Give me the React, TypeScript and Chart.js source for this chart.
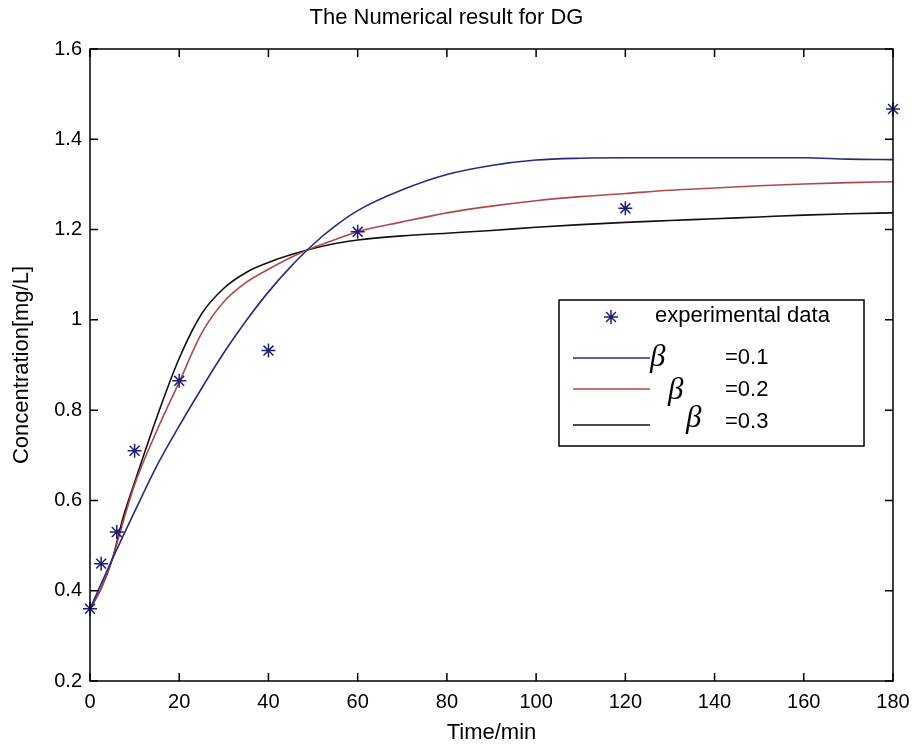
import React, { useEffect, useRef } from "react";
import { Chart, registerables } from "chart.js";

Chart.register(...registerables);

const chartTitle = "The Numerical result for DG";
const xAxisLabel = "Time/min";
const yAxisLabel = "Concentration[mg/L]";

const xTickValues = [0, 20, 40, 60, 80, 100, 120, 140, 160, 180];
const yTickValues = [0.2, 0.4, 0.6, 0.8, 1.0, 1.2, 1.4, 1.6];

const expTimes = [0, 2.5, 6, 10, 20, 40, 60, 120, 180];
const expValues = [0.36, 0.46, 0.53, 0.71, 0.865, 0.932, 1.195, 1.247, 1.467];

const modelTimes = [0, 2.5, 5, 7.5, 10, 15, 20, 25, 30, 35, 40, 45, 50, 55, 60, 70, 80, 90, 100, 110, 120, 130, 140, 150, 160, 170, 180];
const beta01 = [0.36, 0.415, 0.47, 0.523, 0.575, 0.677, 0.765, 0.848, 0.927, 0.998, 1.062, 1.118, 1.167, 1.208, 1.242, 1.288, 1.322, 1.342, 1.354, 1.358, 1.359, 1.359, 1.359, 1.359, 1.359, 1.356, 1.355];
const beta02 = [0.36, 0.405, 0.47, 0.555, 0.635, 0.755, 0.862, 0.97, 1.04, 1.083, 1.112, 1.138, 1.16, 1.178, 1.195, 1.217, 1.237, 1.252, 1.264, 1.273, 1.28, 1.287, 1.292, 1.297, 1.301, 1.304, 1.306];
const beta03 = [0.36, 0.405, 0.47, 0.565, 0.64, 0.785, 0.915, 1.013, 1.07, 1.105, 1.127, 1.144, 1.158, 1.169, 1.177, 1.186, 1.192, 1.198, 1.205, 1.211, 1.216, 1.22, 1.224, 1.228, 1.232, 1.235, 1.237];

const legendLabels = ["experimental data", "=0.1", "=0.2", "=0.3"];

const NAVY = "#1f1f78";
const BLUE_LINE = "#2a2a80";
const RED_LINE = "#b04848";
const BLACK_LINE = "#111111";

function drawStar(ctx: CanvasRenderingContext2D, cx: number, cy: number, r: number) {
  ctx.beginPath();
  for (let i = 0; i < 4; i++) {
    const a = (i * Math.PI) / 4;
    ctx.moveTo(cx - r * Math.cos(a), cy - r * Math.sin(a));
    ctx.lineTo(cx + r * Math.cos(a), cy + r * Math.sin(a));
  }
  ctx.stroke();
}

const framePlugin = {
  id: "matlabFrame",
  afterDraw(chart: any) {
    const { ctx, chartArea } = chart;
    const { left, right, top, bottom } = chartArea;
    const xs = chart.scales.x;
    const ys = chart.scales.y;
    ctx.save();
    ctx.strokeStyle = "#000";
    ctx.lineWidth = 1.5;
    ctx.strokeRect(left, top, right - left, bottom - top);
    const tl = 8;
    ctx.beginPath();
    xTickValues.forEach((v) => {
      const px = xs.getPixelForValue(v);
      ctx.moveTo(px, bottom);
      ctx.lineTo(px, bottom - tl);
      ctx.moveTo(px, top);
      ctx.lineTo(px, top + tl);
    });
    yTickValues.forEach((v) => {
      const py = ys.getPixelForValue(v);
      ctx.moveTo(left, py);
      ctx.lineTo(left + tl, py);
      ctx.moveTo(right, py);
      ctx.lineTo(right - tl, py);
    });
    ctx.stroke();

    // legend
    const bx = 559, by = 300, bw = 305, bh = 146;
    ctx.fillStyle = "#fff";
    ctx.fillRect(bx, by, bw, bh);
    ctx.strokeStyle = "#000";
    ctx.lineWidth = 1.5;
    ctx.strokeRect(bx, by, bw, bh);

    ctx.strokeStyle = NAVY;
    ctx.lineWidth = 1.5;
    drawStar(ctx, 611, 317, 7);

    ctx.fillStyle = "#000";
    ctx.font = '22px "Liberation Sans", Arial, sans-serif';
    ctx.textBaseline = "middle";
    ctx.textAlign = "left";
    ctx.fillText(legendLabels[0], 655, 316);

    const rows = [
      { y: 358, color: BLUE_LINE, bx: 650, by: 358, ty: 358 },
      { y: 389, color: RED_LINE, bx: 668, by: 391, ty: 390 },
      { y: 425, color: BLACK_LINE, bx: 686, by: 419, ty: 422 },
    ];
    rows.forEach((r, i) => {
      ctx.strokeStyle = r.color;
      ctx.lineWidth = 1.5;
      ctx.beginPath();
      ctx.moveTo(573, r.y);
      ctx.lineTo(650, r.y);
      ctx.stroke();
      ctx.fillStyle = "#000";
      ctx.font = 'italic 31px "Liberation Serif", "DejaVu Serif", serif';
      ctx.fillText("β", r.bx, r.by);
      ctx.font = '22px "Liberation Sans", Arial, sans-serif';
      ctx.fillText(legendLabels[i + 1], 725, r.ty);
    });
    ctx.restore();
  },
};

export default function App() {
  const ref = useRef<HTMLCanvasElement | null>(null);
  useEffect(() => {
    document.body.style.margin = "0";
    const canvas = ref.current;
    if (!canvas) return;
    const mk = (xs: number[], ys: number[]) => xs.map((x, i) => ({ x, y: ys[i] }));
    const chart = new Chart(canvas, {
      type: "scatter",
      data: {
        datasets: [
          {
            label: "experimental data",
            data: mk(expTimes, expValues),
            pointStyle: "star",
            pointRadius: 7,
            pointBorderWidth: 1.5,
            borderColor: NAVY,
            backgroundColor: NAVY,
            showLine: false,
            clip: false,
          } as any,
          {
            label: "β=0.1",
            data: mk(modelTimes, beta01),
            showLine: true,
            borderColor: BLUE_LINE,
            borderWidth: 1.6,
            pointRadius: 0,
            cubicInterpolationMode: "monotone",
          },
          {
            label: "β=0.2",
            data: mk(modelTimes, beta02),
            showLine: true,
            borderColor: RED_LINE,
            borderWidth: 1.6,
            pointRadius: 0,
            cubicInterpolationMode: "monotone",
          },
          {
            label: "β=0.3",
            data: mk(modelTimes, beta03),
            showLine: true,
            borderColor: BLACK_LINE,
            borderWidth: 1.6,
            pointRadius: 0,
            cubicInterpolationMode: "monotone",
          },
        ],
      },
      options: {
        animation: false,
        responsive: false,
        devicePixelRatio: 1,
        layout: { padding: { top: 0, right: 23, bottom: 0, left: 0 } },
        plugins: {
          legend: { display: false },
          tooltip: { enabled: false },
          title: {
            display: true,
            text: chartTitle,
            color: "#000",
            font: { family: '"Liberation Sans", Arial, sans-serif', size: 22, weight: "normal" },
            padding: { top: 5, bottom: 17.6 },
          },
        },
        scales: {
          x: {
            type: "linear",
            min: 0,
            max: 180,
            afterBuildTicks: (s: any) => {
              s.ticks = xTickValues.map((v) => ({ value: v }));
            },
            afterFit: (s: any) => {
              s.height = 65;
              s.paddingRight = 0;
              s.paddingLeft = 0;
            },
            grid: { display: false, drawTicks: false },
            border: { display: false },
            ticks: {
              color: "#000",
              padding: 9,
              maxRotation: 0,
              font: { family: '"Liberation Sans", Arial, sans-serif', size: 20 },
              callback: (v: any) => String(v),
            },
            title: {
              display: true,
              text: xAxisLabel,
              color: "#000",
              font: { family: '"Liberation Sans", Arial, sans-serif', size: 22 },
              padding: { top: 0, bottom: 0 },
            },
          },
          y: {
            type: "linear",
            min: 0.2,
            max: 1.6,
            afterBuildTicks: (s: any) => {
              s.ticks = yTickValues.map((v) => ({ value: v }));
            },
            afterFit: (s: any) => {
              s.width = 90;
              s.paddingTop = 0;
              s.paddingBottom = 0;
            },
            grid: { display: false, drawTicks: false },
            border: { display: false },
            ticks: {
              color: "#000",
              padding: 8,
              font: { family: '"Liberation Sans", Arial, sans-serif', size: 20 },
              callback: (v: any) => String(parseFloat(Number(v).toFixed(1))),
            },
            title: {
              display: true,
              text: yAxisLabel,
              color: "#000",
              font: { family: '"Liberation Sans", Arial, sans-serif', size: 22 },
              padding: { top: 9, bottom: 0 },
            },
          },
        },
      },
      plugins: [framePlugin],
    } as any);
    return () => chart.destroy();
  }, []);
  return <canvas ref={ref} width={916} height={746} style={{ display: "block", width: 916, height: 746 }} />;
}
